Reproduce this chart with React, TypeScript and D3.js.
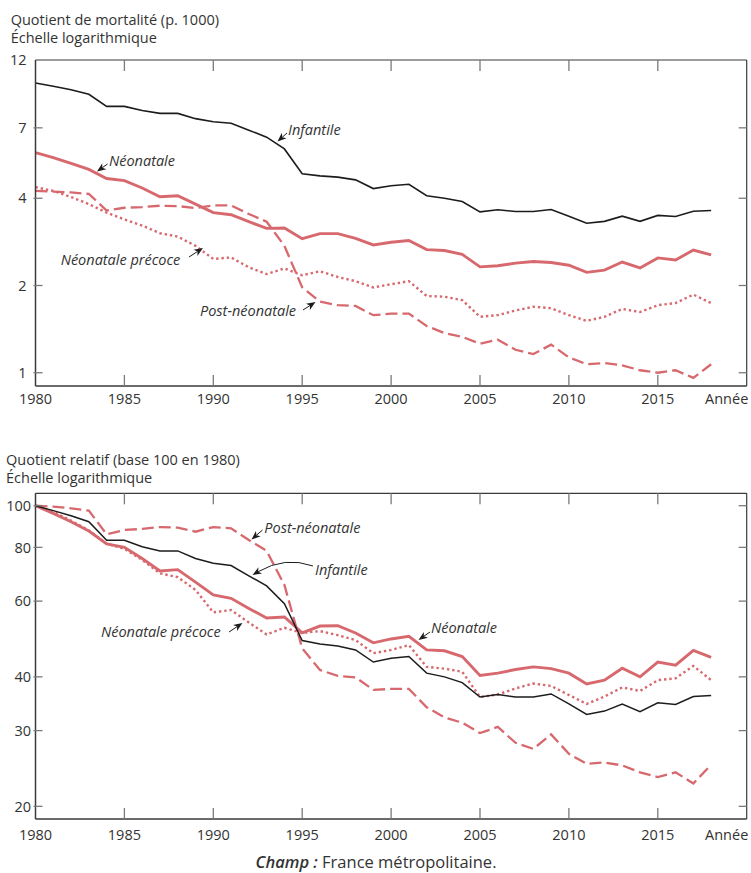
import React from 'react';
import * as d3 from 'd3';

// ---------- data ----------
const YEARS = [
  1980, 1981, 1982, 1983, 1984, 1985, 1986, 1987, 1988, 1989,
  1990, 1991, 1992, 1993, 1994, 1995, 1996, 1997, 1998, 1999,
  2000, 2001, 2002, 2003, 2004, 2005, 2006, 2007, 2008, 2009,
  2010, 2011, 2012, 2013, 2014, 2015, 2016, 2017, 2018,
];
const X_TICKS = [1980, 1985, 1990, 1995, 2000, 2005, 2010, 2015];
const TOP_Y_TICKS = [1, 2, 4, 7, 12];
const BOTTOM_Y_TICKS = [20, 30, 40, 60, 80, 100];

// Quotients (p. 1000)
const infantile = [
  10.0, 9.74, 9.48, 9.14, 8.3, 8.3, 8.03, 7.85, 7.85, 7.53,
  7.35, 7.26, 6.87, 6.5, 5.92, 4.86, 4.78, 4.73, 4.63, 4.32,
  4.42, 4.47, 4.08, 4.0, 3.9, 3.59, 3.65, 3.6, 3.6, 3.66,
  3.47, 3.28, 3.33, 3.47, 3.33, 3.49, 3.46, 3.61, 3.63,
];
const neonatale = [
  5.75, 5.52, 5.28, 5.03, 4.68, 4.6, 4.34, 4.05, 4.08, 3.82,
  3.57, 3.51, 3.32, 3.15, 3.16, 2.9, 3.02, 3.02, 2.91, 2.76,
  2.82, 2.86, 2.66, 2.64, 2.56, 2.32, 2.34, 2.39, 2.42, 2.4,
  2.35, 2.22, 2.26, 2.41, 2.3, 2.49, 2.45, 2.65, 2.55,
];
const postNeonatale = [
  4.24, 4.22, 4.19, 4.14, 3.63, 3.71, 3.73, 3.77, 3.76, 3.7,
  3.78, 3.78, 3.53, 3.32, 2.74, 1.97, 1.76, 1.71, 1.7, 1.58,
  1.6, 1.6, 1.45, 1.37, 1.33, 1.26, 1.3, 1.2, 1.16, 1.25,
  1.13, 1.07, 1.08, 1.06, 1.02, 1.0, 1.02, 0.96, 1.07,
];
const neonatalePrecoce = [
  4.37, 4.24, 4.04, 3.82, 3.57, 3.38, 3.22, 3.03, 2.95, 2.74,
  2.47, 2.5, 2.31, 2.19, 2.29, 2.17, 2.24, 2.14, 2.07, 1.97,
  2.02, 2.07, 1.84, 1.83, 1.78, 1.56, 1.58, 1.64, 1.69, 1.67,
  1.58, 1.51, 1.56, 1.66, 1.62, 1.71, 1.74, 1.86, 1.74,
];

// Quotients relatifs (base 100 en 1980)
const infantileRel = [
  100, 97.4, 94.8, 91.8, 83.1, 83.1, 80.3, 78.5, 78.5, 75.4,
  73.5, 72.6, 68.7, 65.1, 59.2, 48.6, 47.7, 47.2, 46.2, 43.3,
  44.2, 44.6, 40.8, 40.0, 38.8, 35.9, 36.4, 35.9, 35.9, 36.5,
  34.6, 32.7, 33.3, 34.6, 33.2, 34.8, 34.5, 36.0, 36.2,
];
const neonataleRel = [
  100, 96.0, 91.8, 87.3, 81.5, 80.0, 75.4, 70.5, 71.0, 66.4,
  62.0, 60.9, 57.7, 54.8, 55.1, 50.6, 52.5, 52.6, 50.6, 48.0,
  49.0, 49.7, 46.2, 46.0, 44.6, 40.3, 40.8, 41.6, 42.2, 41.8,
  40.8, 38.5, 39.3, 41.9, 40.0, 43.3, 42.6, 46.1, 44.4,
];
const postNeonataleRel = [
  100, 99.5, 98.6, 97.4, 85.8, 87.8, 88.3, 89.2, 88.9, 87.0,
  89.2, 88.6, 83.2, 78.5, 65.4, 46.6, 41.5, 40.2, 39.9, 37.3,
  37.5, 37.5, 34.0, 32.2, 31.3, 29.6, 30.6, 28.1, 27.2, 29.4,
  26.5, 25.1, 25.3, 24.9, 24.0, 23.4, 24.0, 22.6, 25.0,
];
const neonatalePrecoceRel = [
  100, 96.8, 92.3, 87.6, 81.6, 79.4, 74.8, 69.6, 68.2, 63.7,
  56.5, 57.2, 53.5, 50.2, 52.0, 50.6, 51.1, 50.0, 48.7, 45.4,
  46.2, 47.4, 42.2, 41.8, 41.1, 35.9, 36.4, 37.6, 38.6, 38.1,
  36.3, 34.6, 36.0, 37.8, 37.1, 39.3, 39.7, 42.4, 39.3,
];

// ---------- styles ----------
const RED = '#d7696e';
const BLACK = '#1c1c1c';
const TEXT = '#333333';
const FRAME = '#3a3a3a';
const TICK = '#7a7a7a';
const FONT = "'Open Sans', 'Noto Sans', sans-serif";

const X0 = 35.5;
const X1 = 746.7;

type SeriesDef = { values: number[]; color: string; width: number; dash?: string };

function Arrow({ x1, y1, x2, y2, cx, cy }: { x1: number; y1: number; x2: number; y2: number; cx?: number; cy?: number }) {
  const fromX = cx !== undefined ? cx : x1;
  const fromY = cy !== undefined ? cy : y1;
  const ang = Math.atan2(y2 - fromY, x2 - fromX);
  const L = 9;
  const W = 3.6;
  const ux = Math.cos(ang);
  const uy = Math.sin(ang);
  const bx = x2 - ux * L;
  const by = y2 - uy * L;
  const nx = x2 - ux * (L - 2.5);
  const ny = y2 - uy * (L - 2.5);
  const head = `M${x2},${y2} L${bx - uy * W},${by + ux * W} L${nx},${ny} L${bx + uy * W},${by - ux * W} Z`;
  const shaft = cx !== undefined ? `M${x1},${y1} Q${cx},${cy} ${nx},${ny}` : `M${x1},${y1} L${nx},${ny}`;
  return (
    <g>
      <path d={shaft} fill="none" stroke={BLACK} strokeWidth={1} />
      <path d={head} fill={BLACK} stroke="none" />
    </g>
  );
}

function Panel({
  yDomain,
  yRange,
  ticks,
  tickLabelX,
  xLabelY,
  series,
}: {
  yDomain: [number, number];
  yRange: [number, number];
  ticks: number[];
  tickLabelX: number;
  xLabelY: number;
  series: SeriesDef[];
}) {
  const x = d3.scaleLinear().domain([1980, 2020]).range([X0, X1]);
  const y = d3.scaleLog().domain(yDomain).range(yRange);
  const yB = yRange[0];
  const yT = yRange[1];
  const line = d3
    .line<number>()
    .x((_, i) => x(YEARS[i]))
    .y((d) => y(d));

  return (
    <g>
      {series.map((s, i) => (
        <path
          key={i}
          d={line(s.values) || ''}
          fill="none"
          stroke={s.color}
          strokeWidth={s.width}
          strokeDasharray={s.dash}
          strokeLinejoin="miter"
        />
      ))}
      {/* frame */}
      <line x1={X0} x2={X1} y1={yT} y2={yT} stroke={FRAME} strokeWidth={1.2} />
      <line x1={X1} x2={X1} y1={yT} y2={yB} stroke={FRAME} strokeWidth={1.2} />
      <line x1={X0} x2={X0} y1={yT} y2={yB} stroke={FRAME} strokeWidth={1.5} />
      <line x1={X0} x2={X1} y1={yB} y2={yB} stroke={FRAME} strokeWidth={1.6} />
      {/* x ticks */}
      {X_TICKS.filter((t) => t !== 1980).map((t) => (
        <g key={t}>
          <line x1={x(t)} x2={x(t)} y1={yT} y2={yT + 11} stroke={TICK} strokeWidth={1.3} />
          <line x1={x(t)} x2={x(t)} y1={yB - 11} y2={yB} stroke={TICK} strokeWidth={1.3} />
        </g>
      ))}
      {X_TICKS.map((t) => (
        <text key={t} x={x(t)} y={xLabelY} textAnchor="middle" fontSize={14.5} fill={TEXT} fontFamily={FONT}>
          {t}
        </text>
      ))}
      <text x={X1 - 20} y={xLabelY} textAnchor="middle" fontSize={14.5} fill={TEXT} fontFamily={FONT}>
        Année
      </text>
      {/* y ticks */}
      {ticks.map((t) => (
        <g key={t}>
          {y(t) > yT + 1 && (
            <>
              <line x1={X0 - 2} x2={X0 + 7} y1={y(t)} y2={y(t)} stroke={TICK} strokeWidth={1.3} />
              <line x1={X1 - 8} x2={X1} y1={y(t)} y2={y(t)} stroke={TICK} strokeWidth={1.3} />
            </>
          )}
          <text x={tickLabelX} y={y(t)} dy="0.36em" textAnchor="end" fontSize={14.5} fill={TEXT} fontFamily={FONT}>
            {t}
          </text>
        </g>
      ))}
    </g>
  );
}

const Label = ({ x, y, children }: { x: number; y: number; children: React.ReactNode }) => (
  <text x={x} y={y} fontSize={14.5} fontStyle="italic" fill={TEXT} fontFamily={FONT}>
    {children}
  </text>
);

export default function App() {
  const topSeries: SeriesDef[] = [
    { values: postNeonatale, color: RED, width: 2.3, dash: '12,5' },
    { values: neonatalePrecoce, color: RED, width: 2.4, dash: '2.4,2.9' },
    { values: neonatale, color: RED, width: 2.9 },
    { values: infantile, color: BLACK, width: 1.6 },
  ];
  const bottomSeries: SeriesDef[] = [
    { values: postNeonataleRel, color: RED, width: 2.3, dash: '12,5' },
    { values: neonatalePrecoceRel, color: RED, width: 2.4, dash: '2.4,2.9' },
    { values: neonataleRel, color: RED, width: 2.9 },
    { values: infantileRel, color: BLACK, width: 1.5 },
  ];

  return (
    <svg
      width={751}
      height={873}
      viewBox="0 0 751 873"
      style={{ position: 'absolute', left: 0, top: 0, background: '#fff' }}
    >
      <rect x={0} y={0} width={751} height={873} fill="#fff" />

      {/* top panel */}
      <text x={10.7} y={25} fontSize={14.5} fill={TEXT} fontFamily={FONT}>
        Quotient de mortalité (p. 1000)
      </text>
      <text x={10.7} y={43} fontSize={14.5} fill={TEXT} fontFamily={FONT}>
        Échelle logarithmique
      </text>
      <Panel
        yDomain={[0.9, 12]}
        yRange={[386, 60]}
        ticks={TOP_Y_TICKS}
        tickLabelX={26.5}
        xLabelY={404}
        series={topSeries}
      />
      <Label x={288} y={134.5}>Infantile</Label>
      <Arrow x1={287} y1={133} x2={277.5} y2={141.5} />
      <Label x={109} y={166}>Néonatale</Label>
      <Arrow x1={107.5} y1={164} x2={97} y2={171.5} />
      <Label x={60.7} y={265}>Néonatale précoce</Label>
      <Arrow x1={189} y1={257} x2={203} y2={248} />
      <Label x={200} y={316}>Post-néonatale</Label>
      <Arrow x1={303} y1={310} x2={315.5} y2={302} />

      {/* bottom panel */}
      <text x={6} y={465} fontSize={14.5} fill={TEXT} fontFamily={FONT}>
        Quotient relatif (base 100 en 1980)
      </text>
      <text x={6} y={483} fontSize={14.5} fill={TEXT} fontFamily={FONT}>
        Échelle logarithmique
      </text>
      <Panel
        yDomain={[18.69, 106.86]}
        yRange={[819, 493.3]}
        ticks={BOTTOM_Y_TICKS}
        tickLabelX={31}
        xLabelY={840}
        series={bottomSeries}
      />
      <Label x={264.3} y={532.5}>Post-néonatale</Label>
      <Arrow x1={262.5} y1={530} x2={251.5} y2={539.5} />
      <Label x={315} y={575}>Infantile</Label>
      <Arrow x1={313} y1={566} cx={285} cy={556} x2={252.5} y2={575} />
      <Label x={101} y={636.7}>Néonatale précoce</Label>
      <Arrow x1={229} y1={632} x2={242.5} y2={623} />
      <Label x={431} y={633.3}>Néonatale</Label>
      <Arrow x1={430} y1={632} x2={418.5} y2={640} />

      <text x={376} y={867.5} textAnchor="middle" fontSize={16.5} fill={TEXT} fontFamily={FONT}>
        <tspan fontStyle="italic" fontWeight={600}>Champ :</tspan> France métropolitaine.
      </text>
    </svg>
  );
}
